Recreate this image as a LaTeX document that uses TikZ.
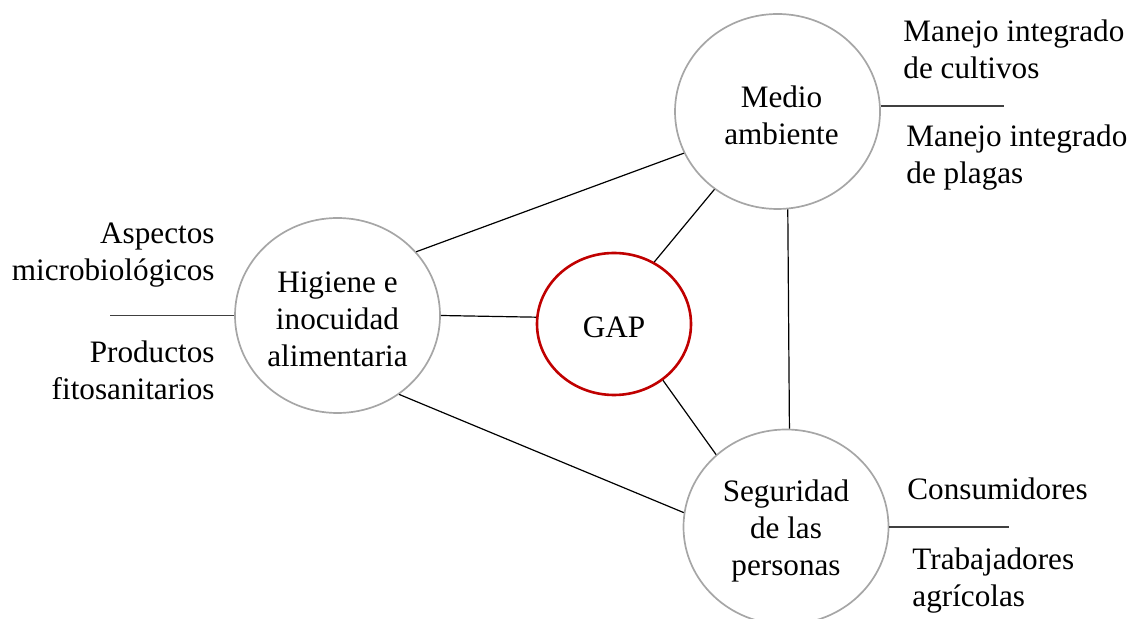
\documentclass[tikz,border=0pt]{standalone}
\usepackage{fontspec}
\setmainfont{Liberation Serif}
\usetikzlibrary{shapes.geometric}
\definecolor{ringgrey}{RGB}{166,166,166}
\definecolor{gapred}{RGB}{192,0,0}
\definecolor{stubgrey}{RGB}{64,64,64}

\begin{document}
\begin{tikzpicture}[
  x=0.5pt, y=-0.5pt,
  font=\fontsize{15.6}{18.5}\selectfont,
  greyblock/.style={
    ellipse,
    draw=ringgrey,
    line width=0.85pt,
    minimum width=102.5pt,
    minimum height=97.5pt,
    inner sep=0pt
  },
  redblock/.style={
    ellipse,
    draw=gapred,
    line width=1.3pt,
    minimum width=77pt,
    minimum height=71pt,
    inner sep=0pt
  },
  ringtext/.style={
    align=center,
    inner sep=0pt,
    yshift=-2pt
  },
  sidetext/.style={
    inner sep=0pt
  },
  link/.style={
    black,
    line width=0.6pt
  },
  stub/.style={
    stubgrey,
    line width=0.8pt
  }]
  \useasboundingbox (0,0) rectangle (1134,619);
  % circles
  \node [greyblock,label={[ringtext,xshift=2pt]center:Medio\\ambiente}] (medio) at (777.5,111.5) {};
  \node [greyblock,label={[ringtext]center:Higiene e\\inocuidad\\alimentaria}] (higiene) at (337.5,315.5) {};
  \node [greyblock,label={[ringtext]center:Seguridad\\de las\\personas}] (seguridad) at (786,527) {};
  \node [redblock,label={[ringtext,yshift=0.5pt]center:GAP}] (gap) at (614,324) {};
  % side texts (anchored on the last line)
  \node [sidetext, anchor=base west, align=left] (cultivos) at (903,79) {Manejo integrado\\de cultivos};
  \node [sidetext, anchor=base west, align=left] (plagas) at (906,184) {Manejo integrado\\de plagas};
  \node [sidetext, anchor=base east, align=right] (microbio) at (215,281) {Aspectos\\microbiológicos};
  \node [sidetext, anchor=base east, align=right] (fito) at (215,400) {Productos\\fitosanitarios};
  \node [sidetext, anchor=base west] (consum) at (907,500) {Consumidores};
  \node [sidetext, anchor=base west, align=left] (trab) at (912,606) {Trabajadores\\agrícolas};
  % side lines
  \coordinate (medioend) at (1004,0);
  \coordinate (higieneend) at (110,0);
  \coordinate (seguridadend) at (1009,0);
  \draw [stub] (medio.3) -- (medio.3 -| medioend);
  \draw [stub] (higiene.west) -- (higiene.west -| higieneend);
  \draw [stub] (seguridad.east) -- (seguridad.east -| seguridadend);
  % links
  \draw [link] (higiene.39) -- (medio.204);
  \draw [link] (higiene.0) -- (gap.175);
  \draw [link] (higiene.-52) -- (seguridad.172);
  \draw [link] (gap.57) -- (medio.231);
  \draw [link] (gap.-49) -- (seguridad.134);
  \draw [link] (medio.276) -- (seguridad.88);
\end{tikzpicture}
\end{document}
